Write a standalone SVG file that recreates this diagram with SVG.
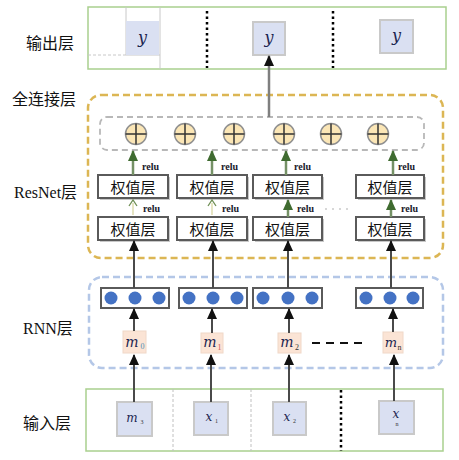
<svg xmlns="http://www.w3.org/2000/svg" width="459" height="460" viewBox="0 0 459 460">
<defs>
<style>
.lbl{font-family:"Liberation Serif","Noto Sans CJK SC",serif;font-size:16px;fill:#111;dominant-baseline:central}
.wt{font-family:"Noto Sans CJK SC",sans-serif;font-size:15px;fill:#111;text-anchor:middle;dominant-baseline:central}
.var{font-family:"DejaVu Serif",serif;font-style:italic;fill:#1c2550;text-anchor:middle;dominant-baseline:central}
.sub{font-family:"Liberation Serif",serif;font-size:8px;fill:#333;text-anchor:middle;dominant-baseline:central}
.relu{font-family:"Liberation Serif",serif;font-size:10px;font-weight:bold;fill:#1a1a2a}
.wbox{fill:#fff;stroke:#5a5a5a;stroke-width:2}
.shadow{fill:#c8c8c8}
.rnn{fill:#fff;stroke:#5a5a5a;stroke-width:2}
.dot{fill:#4472c4}
.mbox{fill:#fbe4d5;stroke:#f0d8c8;stroke-width:1}
.vbox{fill:#dae0f2;stroke:#c9c9c9;stroke-width:2}
.plus{fill:#fbe6b6;stroke:#8f8f8f;stroke-width:1.5}
.cross{stroke:#333;stroke-width:1.5}
.blk{stroke:#4a4a4a;stroke-width:2;fill:none;marker-end:url(#ab)}
.grn{stroke:#759166;stroke-width:2.5;fill:none;marker-end:url(#ag)}
</style>
<marker id="ab" markerUnits="userSpaceOnUse" markerWidth="11" markerHeight="10" refX="10" refY="5" orient="auto" viewBox="0 0 11 10">
<path d="M0 0 L11 5 L0 10 Z" fill="#111"/>
</marker>
<marker id="ag" markerUnits="userSpaceOnUse" markerWidth="11" markerHeight="10" refX="10" refY="5" orient="auto" viewBox="0 0 11 10">
<path d="M0 0 L11 5 L0 10 Z" fill="#3f6b30"/>
</marker>
</defs>
<rect width="459" height="460" fill="#fff"/>

<g id="labels">
<text class="lbl" x="26" y="43">输出层</text>
<text class="lbl" x="12" y="99">全连接层</text>
<text class="lbl" x="14" y="192">ResNet层</text>
<text class="lbl" x="23" y="328">RNN层</text>
<text class="lbl" x="23" y="423">输入层</text>
</g>

<g id="output-layer">
<rect x="88" y="7" width="358" height="62" fill="none" stroke="#a9d08e" stroke-width="1.5"/>
<line x1="126" y1="7" x2="126" y2="55" stroke="#c8c8c8" stroke-width="1"/>
<line x1="160" y1="7" x2="160" y2="69" stroke="#c8c8c8" stroke-width="1"/>
<line x1="88" y1="55" x2="126" y2="55" stroke="#c8c8c8" stroke-width="1" stroke-dasharray="3,2"/>
<line x1="126" y1="55" x2="160" y2="55" stroke="#c8c8c8" stroke-width="1"/>
<line x1="207" y1="11" x2="207" y2="68" stroke="#000" stroke-width="2.5" stroke-dasharray="2.5,3"/>
<line x1="333" y1="11" x2="333" y2="68" stroke="#000" stroke-width="2.5" stroke-dasharray="2.5,3"/>
<rect x="126" y="21" width="33" height="34" fill="#dae0f2"/>
<text class="var" x="142.5" y="37" font-size="16">y</text>
<rect class="vbox" x="253" y="22" width="32" height="33"/>
<text class="var" x="269" y="37" font-size="16">y</text>
<rect class="vbox" x="380" y="20" width="33" height="33"/>
<text class="var" x="396.5" y="35.5" font-size="16">y</text>
</g>

<g id="fc-layer">
<rect x="88" y="95" width="355" height="163" rx="13" fill="none" stroke="#dcb654" stroke-width="2.5" stroke-dasharray="7,4"/>
<rect x="100" y="117" width="324" height="33" rx="7" fill="none" stroke="#b8b8b8" stroke-width="1.8" stroke-dasharray="6,4"/>
<g id="plus-nodes">
<circle class="plus" cx="136" cy="134" r="10.5"/><path class="cross" d="M125.5 134H146.5M136 123.5V144.5"/>
<circle class="plus" cx="185" cy="134" r="10.5"/><path class="cross" d="M174.5 134H195.5M185 123.5V144.5"/>
<circle class="plus" cx="234" cy="134" r="10.5"/><path class="cross" d="M223.5 134H244.5M234 123.5V144.5"/>
<circle class="plus" cx="284" cy="134" r="10.5"/><path class="cross" d="M273.5 134H294.5M284 123.5V144.5"/>
<circle class="plus" cx="331" cy="134" r="10.5"/><path class="cross" d="M320.5 134H341.5M331 123.5V144.5"/>
<circle class="plus" cx="378" cy="134" r="10.5"/><path class="cross" d="M367.5 134H388.5M378 123.5V144.5"/>
</g>
</g>

<g id="resnet-layer">
<g id="w-top">
<rect class="shadow" x="100" y="177" width="70" height="23"/><rect class="wbox" x="98" y="175" width="70" height="23"/><text class="wt" x="133" y="186.5">权值层</text>
<rect class="shadow" x="179" y="177" width="70" height="23"/><rect class="wbox" x="177" y="175" width="70" height="23"/><text class="wt" x="212" y="186.5">权值层</text>
<rect class="shadow" x="255" y="177" width="69" height="23"/><rect class="wbox" x="253" y="175" width="69" height="23"/><text class="wt" x="287.5" y="186.5">权值层</text>
<rect class="shadow" x="358" y="177" width="68" height="23"/><rect class="wbox" x="356" y="175" width="68" height="23"/><text class="wt" x="390" y="186.5">权值层</text>
</g>
<g id="w-bottom">
<rect class="shadow" x="100" y="219" width="70" height="23"/><rect class="wbox" x="98" y="217" width="70" height="23"/><text class="wt" x="133" y="228.5">权值层</text>
<rect class="shadow" x="179" y="219" width="70" height="23"/><rect class="wbox" x="177" y="217" width="70" height="23"/><text class="wt" x="212" y="228.5">权值层</text>
<rect class="shadow" x="255" y="219" width="69" height="23"/><rect class="wbox" x="253" y="217" width="69" height="23"/><text class="wt" x="287.5" y="228.5">权值层</text>
<rect class="shadow" x="358" y="219" width="68" height="23"/><rect class="wbox" x="356" y="217" width="68" height="23"/><text class="wt" x="390" y="228.5">权值层</text>
</g>
<g id="relu-labels">
<text class="relu" x="142" y="170">relu</text>
<text class="relu" x="221" y="170">relu</text>
<text class="relu" x="294" y="170">relu</text>
<text class="relu" x="398" y="170">relu</text>
<text class="relu" x="143" y="212">relu</text>
<text class="relu" x="222" y="212">relu</text>
<text class="relu" x="297" y="212">relu</text>
<text class="relu" x="401" y="212">relu</text>
</g>
<line x1="325" y1="209" x2="350" y2="209" stroke="#b0b0b0" stroke-width="1.2" stroke-dasharray="2,5"/>
</g>

<g id="rnn-layer">
<rect x="89" y="277" width="354" height="91" rx="13" fill="none" stroke="#b4c7e7" stroke-width="2.5" stroke-dasharray="7,4"/>
<g id="rnn1"><rect class="rnn" x="101" y="288" width="68" height="20"/><circle class="dot" cx="111" cy="298" r="6.5"/><circle class="dot" cx="135" cy="298" r="6.5"/><circle class="dot" cx="159" cy="298" r="6.5"/></g>
<g id="rnn2"><rect class="rnn" x="179" y="288" width="68" height="20"/><circle class="dot" cx="189" cy="298" r="6.5"/><circle class="dot" cx="213" cy="298" r="6.5"/><circle class="dot" cx="237" cy="298" r="6.5"/></g>
<g id="rnn3"><rect class="rnn" x="253" y="288" width="69" height="20"/><circle class="dot" cx="263" cy="298" r="6.5"/><circle class="dot" cx="288" cy="298" r="6.5"/><circle class="dot" cx="312" cy="298" r="6.5"/></g>
<g id="rnn4"><rect class="rnn" x="356" y="288" width="67" height="20"/><circle class="dot" cx="366" cy="298" r="6.5"/><circle class="dot" cx="390" cy="298" r="6.5"/><circle class="dot" cx="413" cy="298" r="6.5"/></g>
<g id="m0"><rect class="mbox" x="123" y="331" width="23" height="22"/><text class="var" x="132" y="342" font-size="14">m</text><text class="sub" x="142.5" y="346" style="fill:#4a8fb5">0</text></g>
<g id="m1"><rect class="mbox" x="201" y="333" width="22" height="20"/><text class="var" x="210" y="342" font-size="14">m</text><text class="sub" x="219.5" y="347" style="fill:#d05555">1</text></g>
<g id="m2"><rect class="mbox" x="278" y="333" width="23" height="20"/><text class="var" x="287" y="342" font-size="14">m</text><text class="sub" x="297" y="347">2</text></g>
<g id="mn"><rect class="mbox" x="383" y="332" width="20" height="21"/><text class="var" x="391" y="342" font-size="13">m</text><text class="sub" x="399.5" y="347">n</text></g>
<line x1="312" y1="343" x2="366" y2="343" stroke="#111" stroke-width="2" stroke-dasharray="8,6"/>
</g>

<g id="input-layer">
<rect x="86" y="389" width="357" height="62" fill="none" stroke="#a9d08e" stroke-width="1.5"/>
<line x1="173" y1="389" x2="173" y2="451" stroke="#c0c0c0" stroke-width="1" stroke-dasharray="3,2"/>
<line x1="251" y1="389" x2="251" y2="451" stroke="#c0c0c0" stroke-width="1" stroke-dasharray="3,2"/>
<line x1="341" y1="390" x2="341" y2="451" stroke="#000" stroke-width="2.5" stroke-dasharray="2.5,3"/>
<g id="in-m3"><rect class="vbox" x="117" y="402" width="35" height="34"/><text class="var" x="132" y="418" font-size="12">m</text><text class="sub" x="142" y="422" style="font-size:6px">3</text></g>
<g id="in-x1"><rect class="vbox" x="194" y="402" width="34" height="33"/><text class="var" x="209" y="417" font-size="12">x</text><text class="sub" x="216.5" y="421" style="font-size:6px">1</text></g>
<g id="in-x2"><rect class="vbox" x="273" y="402" width="33" height="33"/><text class="var" x="287" y="417" font-size="12">x</text><text class="sub" x="294.5" y="421" style="font-size:6px">2</text></g>
<g id="in-xn"><rect class="vbox" x="379" y="401" width="35" height="33"/><text class="var" x="396" y="414" font-size="12">x</text><text class="sub" x="397" y="424" style="font-size:6px">n</text></g>
</g>

<g id="connectors">
<line x1="269" y1="117" x2="269" y2="56" stroke="#7f7f7f" stroke-width="2.5" marker-end="url(#ab)"/>
<line class="grn" x1="133" y1="175" x2="133" y2="151"/>
<line class="grn" x1="212" y1="175" x2="212" y2="151"/>
<line class="grn" x1="286" y1="175" x2="286" y2="151"/>
<line class="grn" x1="393" y1="175" x2="393" y2="151"/>
<line x1="133" y1="215" x2="133" y2="203" stroke="#d6d39a" stroke-width="1.2"/>
<path d="M129 206 L133 200 L137 206" fill="none" stroke="#6f8f55" stroke-width="1.3"/>
<line x1="212" y1="215" x2="212" y2="203" stroke="#d6d39a" stroke-width="1.2"/>
<path d="M208 206 L212 200 L216 206" fill="none" stroke="#6f8f55" stroke-width="1.3"/>
<line class="grn" x1="288" y1="217" x2="288" y2="200"/>
<line class="grn" x1="391" y1="217" x2="391" y2="200"/>
<line class="blk" x1="134" y1="288" x2="134" y2="241"/>
<line class="blk" x1="213" y1="288" x2="213" y2="241"/>
<line class="blk" x1="288" y1="288" x2="288" y2="241"/>
<line class="blk" x1="391" y1="288" x2="391" y2="241"/>
<line class="blk" x1="134" y1="331" x2="134" y2="309"/>
<line class="blk" x1="212" y1="333" x2="212" y2="309"/>
<line class="blk" x1="289" y1="333" x2="289" y2="309"/>
<line class="blk" x1="393" y1="332" x2="393" y2="309"/>
<line class="blk" x1="134" y1="402" x2="134" y2="355"/>
<line class="blk" x1="211" y1="402" x2="211" y2="355"/>
<line class="blk" x1="289" y1="402" x2="289" y2="355"/>
<line class="blk" x1="394" y1="401" x2="394" y2="355"/>
</g>
</svg>
